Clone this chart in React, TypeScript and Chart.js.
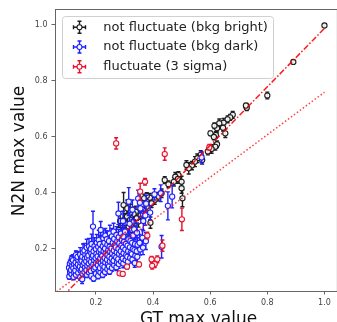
import React, { useEffect, useRef } from "react";
import { Chart, registerables } from "chart.js";
Chart.register(...registerables);

const xTicks = [0.2, 0.4, 0.6, 0.8, 1.0];
const yTicks = [0.2, 0.4, 0.6, 0.8, 1.0];
const xTitle = "GT max value";
const yTitle = "N2N max value";
const seriesNames = ["not fluctuate (bkg bright)", "not fluctuate (bkg dark)", "fluctuate (3 sigma)"];
const seriesColors = ["#1c1c1c", "#1f1fff", "#e3122e"];

// reference lines
const fitLineX = [0.0, 1.0];
const fitLineY = [-0.057, 0.988];
const lowLineX = [0.0, 1.0];
const lowLineY = [0.0, 0.76];

// not fluctuate (bkg bright)
const blackX = [1.0, 0.891, 0.800, 0.727, 0.728, 0.725, 0.679, 0.670, 0.661, 0.647, 0.632, 0.645, 0.624, 0.615, 0.653, 0.620, 0.601, 0.613, 0.624, 0.618, 0.605, 0.592, 0.567, 0.555, 0.547, 0.536, 0.525, 0.517, 0.572, 0.489, 0.478, 0.487, 0.473, 0.441, 0.454, 0.500, 0.500, 0.503, 0.430, 0.418, 0.406, 0.389, 0.378, 0.369, 0.395, 0.378, 0.361, 0.355, 0.340, 0.332, 0.320, 0.297, 0.309, 0.320, 0.332, 0.303, 0.315, 0.326, 0.338, 0.294, 0.280, 0.263, 0.246, 0.229, 0.275, 0.391, 0.349, 0.343, 0.291, 0.303, 0.285, 0.310, 0.357];
const blackY = [0.998, 0.868, 0.748, 0.710, 0.704, 0.712, 0.679, 0.670, 0.663, 0.651, 0.649, 0.633, 0.631, 0.640, 0.613, 0.607, 0.613, 0.600, 0.574, 0.565, 0.557, 0.548, 0.536, 0.524, 0.512, 0.498, 0.488, 0.500, 0.518, 0.464, 0.458, 0.450, 0.440, 0.446, 0.431, 0.440, 0.417, 0.381, 0.399, 0.387, 0.375, 0.383, 0.389, 0.381, 0.363, 0.351, 0.357, 0.339, 0.333, 0.325, 0.330, 0.357, 0.316, 0.304, 0.298, 0.292, 0.280, 0.268, 0.262, 0.268, 0.268, 0.244, 0.238, 0.238, 0.232, 0.294, 0.298, 0.310, 0.250, 0.238, 0.300, 0.345, 0.320];
const blackErr = [0.004, 0.005, 0.012, 0.010, 0.010, 0.008, 0.012, 0.010, 0.012, 0.015, 0.015, 0.012, 0.013, 0.010, 0.015, 0.012, 0.008, 0.010, 0.012, 0.012, 0.015, 0.012, 0.015, 0.015, 0.018, 0.015, 0.020, 0.015, 0.015, 0.012, 0.015, 0.015, 0.015, 0.012, 0.012, 0.020, 0.018, 0.030, 0.015, 0.015, 0.015, 0.015, 0.012, 0.015, 0.015, 0.015, 0.018, 0.020, 0.020, 0.025, 0.030, 0.045, 0.030, 0.030, 0.025, 0.035, 0.030, 0.020, 0.020, 0.025, 0.020, 0.010, 0.012, 0.010, 0.015, 0.020, 0.020, 0.020, 0.020, 0.015, 0.025, 0.030, 0.015];

// not fluctuate (bkg dark)
const blueX = [
  0.107, 0.110, 0.106, 0.109,
  0.115, 0.113, 0.117, 0.114, 0.116,
  0.122, 0.124, 0.121, 0.123, 0.120,
  0.130, 0.128, 0.131, 0.129, 0.132, 0.130,
  0.138, 0.140, 0.137, 0.139, 0.136,
  0.145, 0.147, 0.144, 0.146, 0.148, 0.145,
  0.152, 0.153, 0.151, 0.154, 0.150, 0.152, 0.155,
  0.160, 0.162, 0.159, 0.161, 0.163, 0.160,
  0.168, 0.167, 0.170, 0.166, 0.169, 0.171, 0.168,
  0.176, 0.178, 0.175, 0.177, 0.174, 0.179, 0.176,
  0.184, 0.182, 0.185, 0.183, 0.186, 0.184, 0.182, 0.185,
  0.192, 0.193, 0.191, 0.194, 0.190, 0.192, 0.195, 0.190,
  0.200, 0.198, 0.201, 0.199, 0.202, 0.200, 0.203,
  0.208, 0.210, 0.207, 0.209, 0.206, 0.211, 0.208, 0.210,
  0.216, 0.214, 0.217, 0.215, 0.218, 0.216, 0.214, 0.217,
  0.224, 0.226, 0.223, 0.225, 0.222, 0.227, 0.224, 0.226,
  0.232, 0.230, 0.233, 0.231, 0.234, 0.232, 0.230, 0.233,
  0.240, 0.242, 0.239, 0.241, 0.243, 0.240, 0.238,
  0.248, 0.246, 0.249, 0.247, 0.250, 0.248, 0.246, 0.249,
  0.256, 0.258, 0.255, 0.257, 0.254, 0.259, 0.256,
  0.264, 0.262, 0.265, 0.263, 0.266, 0.264, 0.262,
  0.272, 0.274, 0.271, 0.273, 0.270, 0.275, 0.272,
  0.280, 0.278, 0.281, 0.279, 0.282, 0.280, 0.279,
  0.288, 0.290, 0.287, 0.289, 0.291, 0.288,
  0.296, 0.294, 0.297, 0.295, 0.298, 0.296, 0.295,
  0.304, 0.306, 0.303, 0.305, 0.302,
  0.312, 0.310, 0.313, 0.311, 0.314, 0.315,
  0.320, 0.322, 0.319, 0.321, 0.318,
  0.328, 0.326, 0.329, 0.327, 0.330, 0.328,
  0.336, 0.338, 0.335, 0.337, 0.334,
  0.345, 0.343, 0.346, 0.344, 0.348,
  0.355, 0.353, 0.356, 0.354,
  0.365, 0.363, 0.366,
  0.375, 0.373, 0.376,
  0.390, 0.430, 0.427, 0.452, 0.467, 0.570, 0.405,
];
const blueY = [
  0.102, 0.118, 0.133, 0.148,
  0.110, 0.125, 0.140, 0.155, 0.165,
  0.100, 0.117, 0.132, 0.147, 0.160,
  0.108, 0.123, 0.138, 0.152, 0.167, 0.178,
  0.115, 0.130, 0.145, 0.160, 0.172,
  0.100, 0.122, 0.137, 0.152, 0.166, 0.180,
  0.092, 0.112, 0.128, 0.143, 0.158, 0.172, 0.188,
  0.118, 0.134, 0.150, 0.165, 0.180, 0.195,
  0.108, 0.125, 0.140, 0.156, 0.170, 0.186, 0.205,
  0.116, 0.132, 0.148, 0.162, 0.177, 0.192, 0.210,
  0.104, 0.122, 0.138, 0.154, 0.170, 0.185, 0.200, 0.218,
  0.095, 0.128, 0.145, 0.160, 0.176, 0.192, 0.210, 0.280,
  0.112, 0.134, 0.150, 0.168, 0.183, 0.200, 0.222,
  0.104, 0.122, 0.142, 0.158, 0.174, 0.190, 0.208, 0.232,
  0.116, 0.132, 0.150, 0.166, 0.182, 0.198, 0.218, 0.268,
  0.108, 0.126, 0.142, 0.158, 0.175, 0.192, 0.210, 0.238,
  0.118, 0.136, 0.152, 0.168, 0.185, 0.202, 0.222, 0.248,
  0.128, 0.145, 0.162, 0.178, 0.195, 0.215, 0.235,
  0.120, 0.138, 0.155, 0.172, 0.190, 0.208, 0.228, 0.255,
  0.132, 0.150, 0.166, 0.184, 0.202, 0.222, 0.245,
  0.142, 0.158, 0.176, 0.195, 0.214, 0.236, 0.262,
  0.135, 0.152, 0.170, 0.188, 0.206, 0.228, 0.250,
  0.146, 0.164, 0.182, 0.200, 0.220, 0.242, 0.327,
  0.155, 0.174, 0.192, 0.212, 0.232, 0.255,
  0.148, 0.166, 0.185, 0.205, 0.225, 0.245, 0.300,
  0.160, 0.178, 0.198, 0.218, 0.262,
  0.154, 0.172, 0.192, 0.212, 0.235, 0.369,
  0.168, 0.186, 0.206, 0.228, 0.290,
  0.162, 0.182, 0.200, 0.222, 0.248, 0.340,
  0.150, 0.176, 0.196, 0.218, 0.270,
  0.172, 0.192, 0.215, 0.258, 0.380,
  0.198, 0.222, 0.345, 0.365,
  0.205, 0.240, 0.300,
  0.228, 0.320, 0.362,
  0.330, 0.208, 0.399, 0.354, 0.387, 0.527, 0.395,
];
const blueErr = [
  0.010, 0.012, 0.015, 0.012,
  0.012, 0.010, 0.015, 0.020, 0.012,
  0.010, 0.012, 0.015, 0.018, 0.020,
  0.012, 0.010, 0.015, 0.012, 0.025, 0.015,
  0.010, 0.015, 0.012, 0.020, 0.018,
  0.012, 0.012, 0.015, 0.018, 0.020, 0.025,
  0.015, 0.010, 0.012, 0.015, 0.020, 0.018, 0.030,
  0.012, 0.015, 0.012, 0.018, 0.022, 0.025,
  0.010, 0.012, 0.015, 0.018, 0.020, 0.025, 0.030,
  0.012, 0.015, 0.012, 0.020, 0.018, 0.025, 0.028,
  0.010, 0.012, 0.015, 0.018, 0.020, 0.025, 0.022, 0.035,
  0.010, 0.015, 0.012, 0.018, 0.020, 0.022, 0.030, 0.055,
  0.012, 0.015, 0.018, 0.015, 0.020, 0.025, 0.030,
  0.010, 0.012, 0.015, 0.018, 0.020, 0.022, 0.028, 0.035,
  0.012, 0.015, 0.012, 0.018, 0.020, 0.025, 0.030, 0.030,
  0.010, 0.012, 0.015, 0.020, 0.018, 0.025, 0.022, 0.030,
  0.012, 0.010, 0.015, 0.018, 0.022, 0.020, 0.028, 0.025,
  0.015, 0.012, 0.018, 0.015, 0.022, 0.025, 0.030,
  0.010, 0.015, 0.012, 0.020, 0.018, 0.025, 0.022, 0.030,
  0.012, 0.015, 0.018, 0.015, 0.022, 0.020, 0.028,
  0.015, 0.012, 0.018, 0.020, 0.025, 0.022, 0.030,
  0.012, 0.015, 0.012, 0.020, 0.018, 0.025, 0.030,
  0.015, 0.018, 0.015, 0.022, 0.020, 0.028, 0.040,
  0.012, 0.015, 0.020, 0.018, 0.025, 0.030,
  0.015, 0.012, 0.018, 0.022, 0.020, 0.028, 0.035,
  0.015, 0.020, 0.018, 0.025, 0.035,
  0.012, 0.018, 0.020, 0.022, 0.030, 0.050,
  0.015, 0.018, 0.022, 0.025, 0.040,
  0.012, 0.020, 0.018, 0.025, 0.030, 0.035,
  0.015, 0.018, 0.022, 0.025, 0.035,
  0.018, 0.020, 0.025, 0.035, 0.030,
  0.020, 0.030, 0.030, 0.035,
  0.025, 0.030, 0.035,
  0.030, 0.035, 0.030,
  0.025, 0.040, 0.030, 0.050, 0.040, 0.020, 0.020,
];

// fluctuate (3 sigma)
const redX = [0.271, 0.441, 0.372, 0.355, 0.501, 0.380, 0.433, 0.395, 0.406, 0.415, 0.397, 0.351, 0.309, 0.283, 0.294, 0.597];
const redY = [0.577, 0.539, 0.440, 0.405, 0.306, 0.248, 0.212, 0.163, 0.146, 0.163, 0.140, 0.145, 0.137, 0.113, 0.111, 0.563];
const redErr = [0.020, 0.022, 0.012, 0.030, 0.040, 0.012, 0.020, 0.010, 0.012, 0.012, 0.012, 0.008, 0.008, 0.006, 0.006, 0.010];

const FONT = "'DejaVu Sans', sans-serif";

const toPoints = (xs: number[], ys: number[]) => xs.map((x, i) => ({ x, y: ys[i] }));

const errorBarPlugin = {
  id: "errorBars",
  beforeDatasetDraw(chart: any, args: any) {
    const ds = chart.data.datasets[args.index];
    const errs: number[] | undefined = ds.errs;
    if (!errs) return;
    const { ctx, chartArea } = chart;
    const xs = chart.scales.x;
    const ys = chart.scales.y;
    ctx.save();
    ctx.beginPath();
    ctx.rect(chartArea.left, chartArea.top, chartArea.right - chartArea.left, chartArea.bottom - chartArea.top);
    ctx.clip();
    ctx.strokeStyle = ds.borderColor;
    ctx.lineWidth = 1.4;
    ds.data.forEach((p: any, i: number) => {
      const px = xs.getPixelForValue(p.x);
      const y1 = ys.getPixelForValue(p.y - errs[i]);
      const y2 = ys.getPixelForValue(p.y + errs[i]);
      ctx.beginPath();
      ctx.moveTo(px, y1);
      ctx.lineTo(px, y2);
      ctx.moveTo(px - 2, y1);
      ctx.lineTo(px + 2, y1);
      ctx.moveTo(px - 2, y2);
      ctx.lineTo(px + 2, y2);
      ctx.stroke();
    });
    ctx.restore();
  },
};

const decorPlugin = {
  id: "decor",
  afterDraw(chart: any) {
    const { ctx, chartArea } = chart;
    ctx.save();
    // top and right frame
    ctx.strokeStyle = "#666";
    ctx.lineWidth = 1;
    ctx.beginPath();
    ctx.moveTo(chartArea.left, chartArea.top + 0.5);
    ctx.lineTo(chartArea.right, chartArea.top + 0.5);
    ctx.moveTo(chartArea.right - 0.5, chartArea.top);
    ctx.lineTo(chartArea.right - 0.5, chartArea.bottom);
    ctx.stroke();

    // axis titles
    ctx.fillStyle = "#111";
    ctx.font = `17px ${FONT}`;
    ctx.textAlign = "center";
    ctx.textBaseline = "alphabetic";
    ctx.fillText(xTitle, 198.5, 324);
    ctx.save();
    ctx.translate(24, 151);
    ctx.rotate(-Math.PI / 2);
    ctx.fillText(yTitle, 0, 0);
    ctx.restore();

    // legend
    const bx = 62.5, by = 16.5, bw = 211, bh = 62;
    ctx.beginPath();
    ctx.roundRect(bx, by, bw, bh, 3);
    ctx.fillStyle = "rgba(255,255,255,0.85)";
    ctx.fill();
    ctx.strokeStyle = "#d0d0d0";
    ctx.lineWidth = 1;
    ctx.stroke();
    seriesNames.forEach((name, i) => {
      const cy = 27.3 + i * 19.7;
      const cx = 79.5;
      ctx.strokeStyle = seriesColors[i];
      ctx.lineWidth = 1.4;
      ctx.beginPath();
      ctx.moveTo(cx - 6, cy);
      ctx.lineTo(cx + 6, cy);
      ctx.moveTo(cx, cy - 6);
      ctx.lineTo(cx, cy + 6);
      ctx.moveTo(cx - 2, cy - 6);
      ctx.lineTo(cx + 2, cy - 6);
      ctx.moveTo(cx - 2, cy + 6);
      ctx.lineTo(cx + 2, cy + 6);
      ctx.moveTo(cx - 6, cy - 2);
      ctx.lineTo(cx - 6, cy + 2);
      ctx.moveTo(cx + 6, cy - 2);
      ctx.lineTo(cx + 6, cy + 2);
      ctx.stroke();
      ctx.beginPath();
      ctx.arc(cx, cy, 2.5, 0, Math.PI * 2);
      ctx.fillStyle = "#fff";
      ctx.fill();
      ctx.lineWidth = 1.1;
      ctx.stroke();
      ctx.fillStyle = "#222";
      ctx.font = `13px ${FONT}`;
      ctx.textAlign = "left";
      ctx.textBaseline = "middle";
      ctx.fillText(name, 103.3, cy);
    });
    ctx.restore();
  },
};

export default function App() {
  const ref = useRef<HTMLCanvasElement | null>(null);
  useEffect(() => {
    if (!ref.current) return;
    const scatterDs = (idx: number, xs: number[], ys: number[], errs: number[], order: number) => ({
      type: "scatter" as const,
      label: seriesNames[idx],
      data: toPoints(xs, ys),
      errs,
      order,
      borderColor: seriesColors[idx],
      backgroundColor: "rgba(255,255,255,0.9)",
      pointRadius: 2.6,
      pointBorderWidth: 1.1,
      showLine: false,
    });
    const chart = new Chart(ref.current, {
      type: "scatter",
      data: {
        datasets: [
          {
            type: "scatter",
            label: "fit",
            data: toPoints(fitLineX, fitLineY),
            showLine: true,
            borderColor: "rgba(255,0,0,0.9)",
            borderWidth: 1.5,
            borderDash: [6, 2, 1.5, 2],
            pointRadius: 0,
            order: 0,
          } as any,
          {
            type: "scatter",
            label: "low",
            data: toPoints(lowLineX, lowLineY),
            showLine: true,
            borderColor: "rgba(255,30,30,0.85)",
            borderWidth: 1.5,
            borderDash: [1.5, 2.2],
            pointRadius: 0,
            order: 0,
          } as any,
          scatterDs(2, redX, redY, redErr, 1) as any,
          scatterDs(1, blueX, blueY, blueErr, 2) as any,
          scatterDs(0, blackX, blackY, blackErr, 3) as any,
        ],
      },
      options: {
        animation: false,
        responsive: false,
        maintainAspectRatio: false,
        layout: { padding: { top: 9, left: 0, right: 0, bottom: 0 } },
        plugins: { legend: { display: false }, tooltip: { enabled: false }, title: { display: false } },
        scales: {
          x: {
            type: "linear",
            min: 0.057,
            max: 1.047,
            afterFit: (s: any) => { s.height = 31; },
            afterBuildTicks: (s: any) => { s.ticks = xTicks.map((v) => ({ value: v })); },
            grid: { display: true, drawOnChartArea: false, drawTicks: true, tickLength: 3.5, color: "#666" },
            border: { display: true, color: "#666", width: 1 },
            ticks: { color: "#444", font: { family: FONT, size: 8 }, padding: 4, maxRotation: 0, callback: (v: any) => Number(v).toFixed(1) },
          },
          y: {
            type: "linear",
            min: 0.05,
            max: 1.057,
            afterFit: (s: any) => { s.width = 55; },
            afterBuildTicks: (s: any) => { s.ticks = yTicks.map((v) => ({ value: v })); },
            grid: { display: true, drawOnChartArea: false, drawTicks: true, tickLength: 3.5, color: "#666" },
            border: { display: true, color: "#666", width: 1 },
            ticks: { color: "#444", font: { family: FONT, size: 8 }, padding: 4, callback: (v: any) => Number(v).toFixed(1) },
          },
        },
      },
      plugins: [errorBarPlugin, decorPlugin],
    } as any);
    return () => chart.destroy();
  }, []);
  return (
    <div style={{ position: "fixed", left: 0, top: 0, width: 337, height: 322, overflow: "hidden", background: "#fff" }}>
      <canvas ref={ref} width={343} height={322} style={{ width: 343, height: 322, display: "block" }} />
    </div>
  );
}
